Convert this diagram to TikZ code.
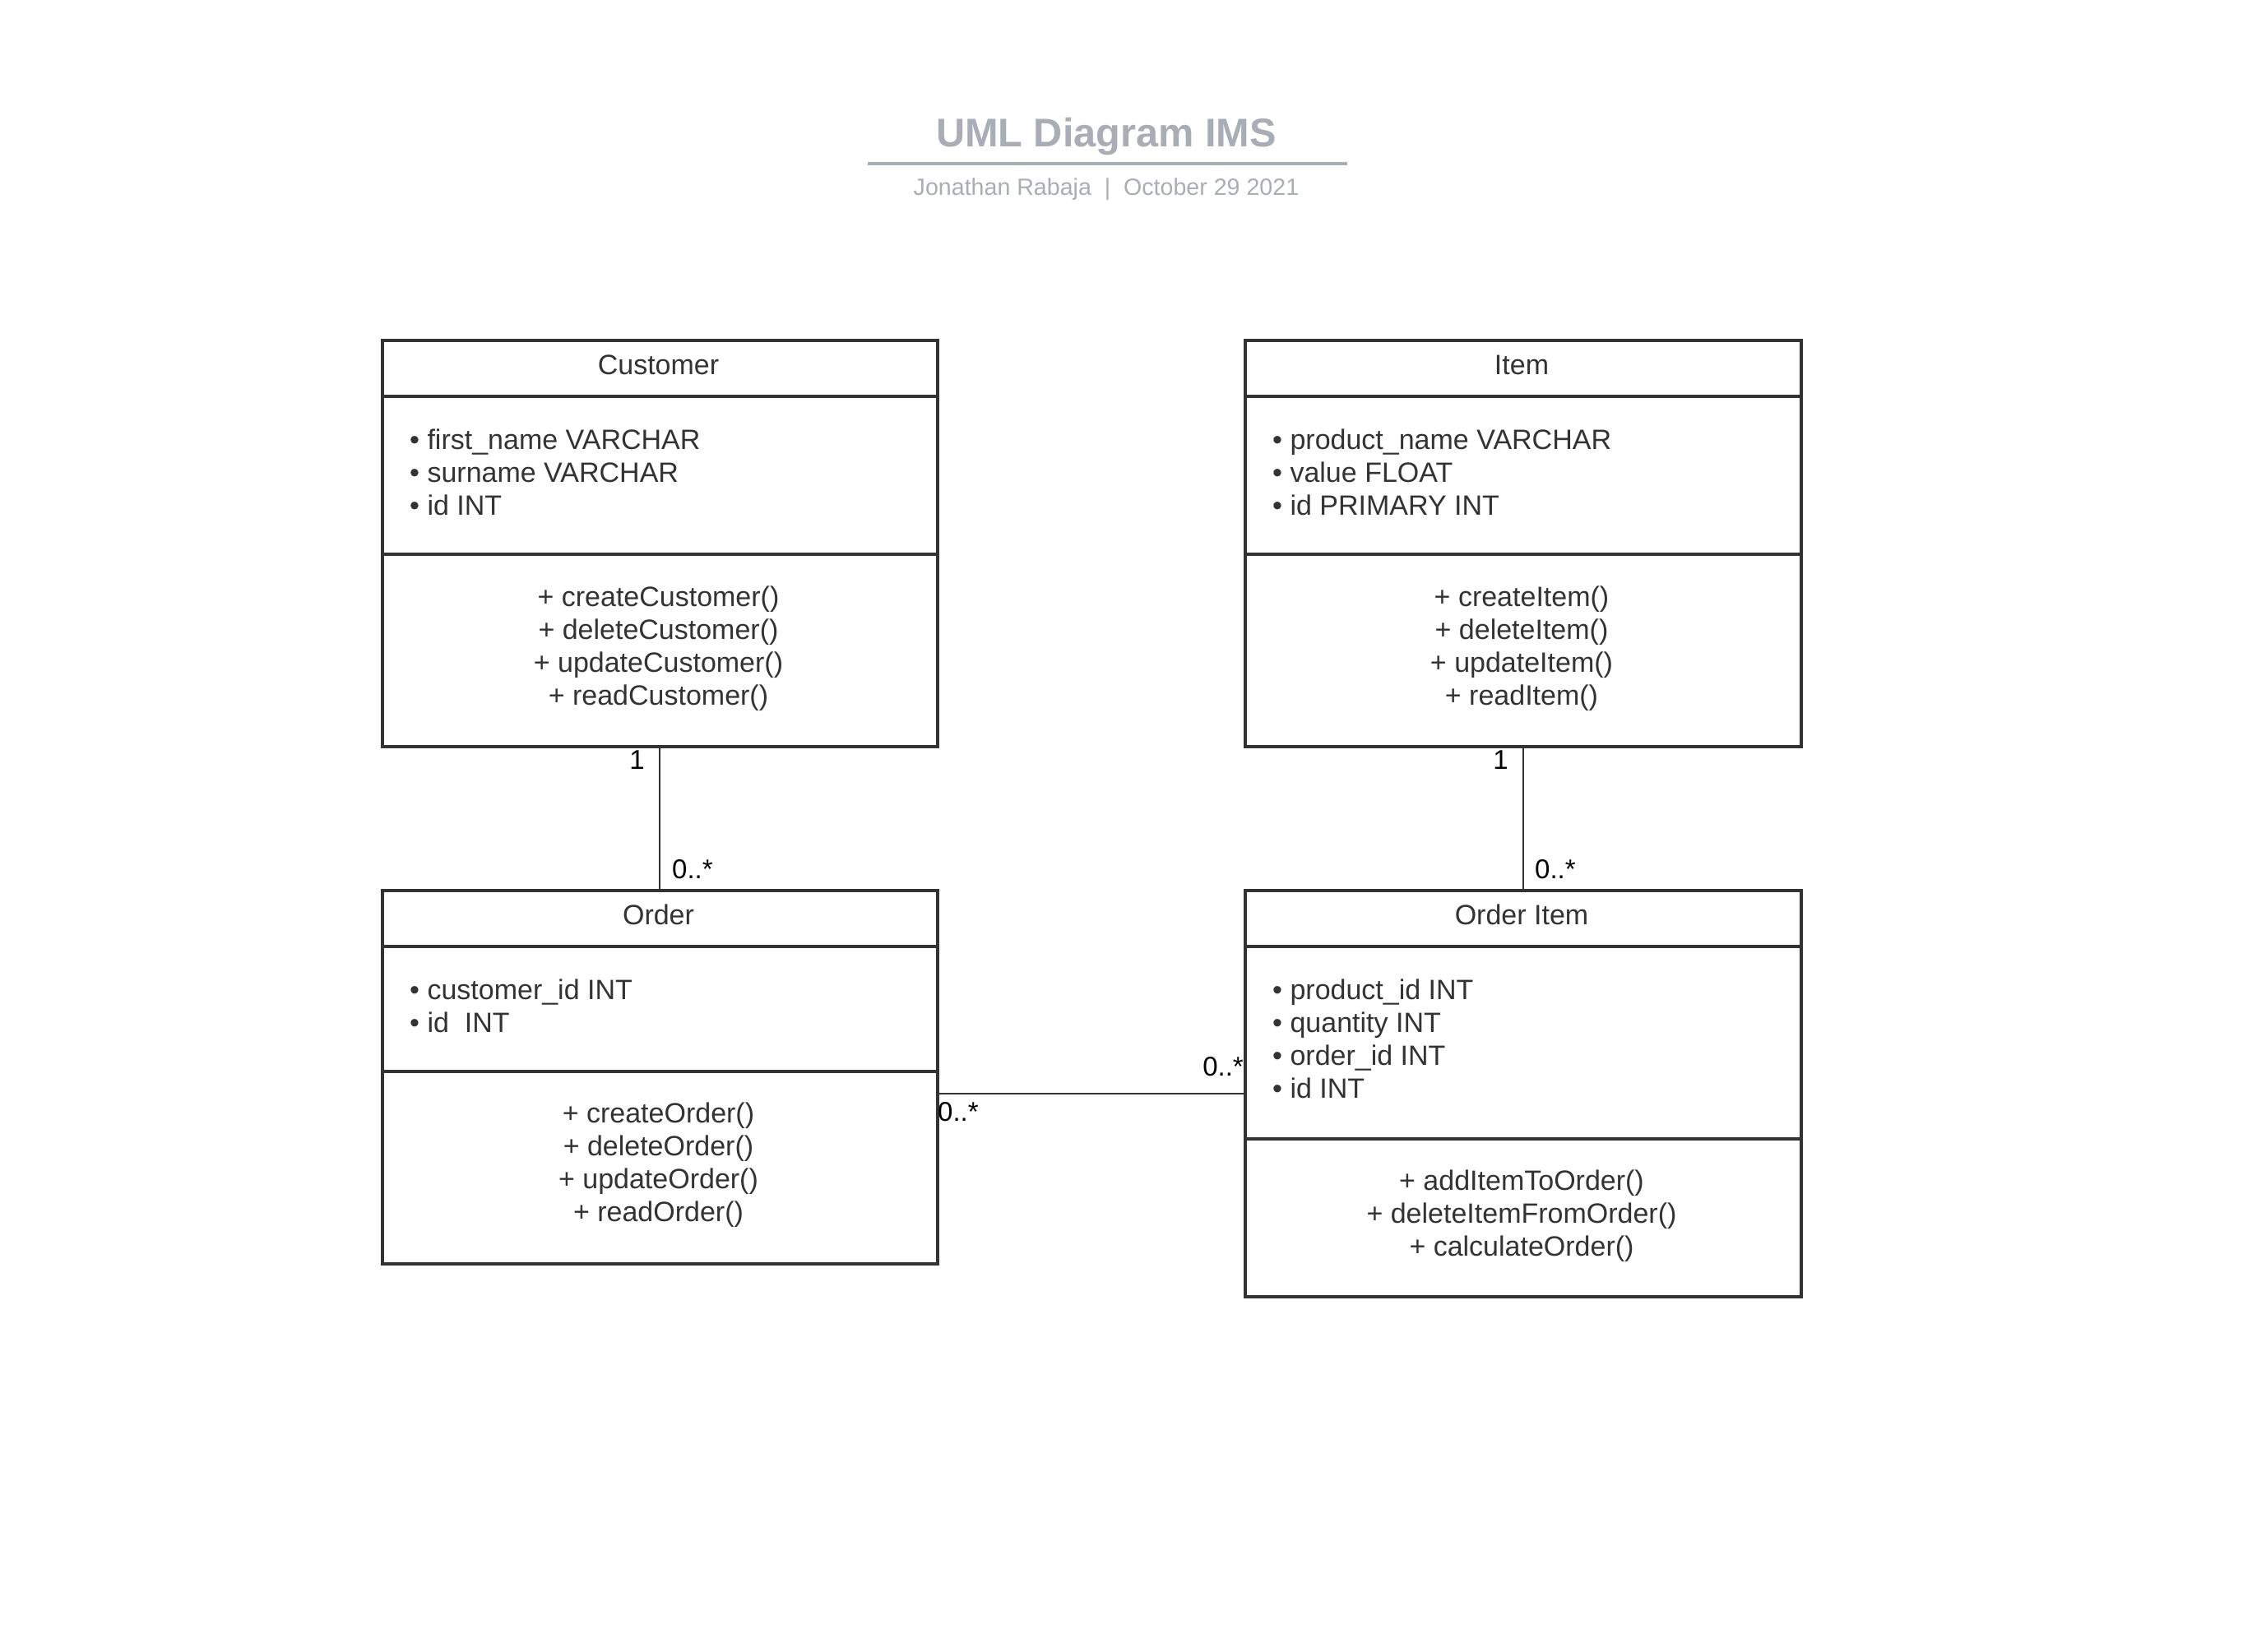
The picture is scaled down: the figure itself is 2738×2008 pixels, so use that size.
\documentclass[tikz,border=0pt]{standalone}
\usepackage{fontspec}
\setmainfont{Liberation Sans}
\definecolor{ink}{HTML}{333333}
\definecolor{titlegray}{HTML}{A9AEB6}
\begin{document}
\begin{tikzpicture}[x=1pt,y=-1pt,
  classbox/.style={draw=ink, line width=3.5pt, rectangle, inner sep=0pt, anchor=north west},
  sepline/.style={draw=ink, line width=3.5pt},
  conn/.style={draw=ink, line width=2pt},
  txt/.style={font=\fontsize{34}{40}\selectfont, text=ink, inner sep=0pt},
  attr/.style={txt, anchor=base west},
  meth/.style={txt, anchor=base},
  mult/.style={font=\fontsize{33}{38}\selectfont, text=black, inner sep=0pt}
]
\useasboundingbox[fill=white] (0,0) rectangle (2738,2008);

% Title
\node[font=\bfseries\fontsize{48.7}{56}\selectfont, text=titlegray, inner sep=0pt, anchor=base] (title) at (1345,178) {UML Diagram IMS};
\draw[titlegray, line width=4pt] (1055,199) -- (1638,199);
\node[font=\fontsize{28.6}{34}\selectfont, text=titlegray, inner sep=0pt, anchor=base] (subtitle) at (1345,237) {Jonathan Rabaja\ \ |\ \ October 29 2021};

% Customer
\node[classbox, minimum width=675pt, minimum height=494pt] (cust) at (463,412) {};
\draw[sepline] (463,482) -- (1138,482);
\draw[sepline] (463,674) -- (1138,674);
\node[meth] (custT) at (800.5,455) {Customer};
\foreach \t [count=\i] in {{• first\_name VARCHAR},{• surname VARCHAR},{• id INT}}
  \node[attr] (custA\i) at (498,506+40*\i) {\t};
\foreach \t [count=\i] in {{+ createCustomer()},{+ deleteCustomer()},{+ updateCustomer()},{+ readCustomer()}}
  \node[meth] (custM\i) at (800.5,697+40*\i) {\t};

% Item
\node[classbox, minimum width=676pt, minimum height=494pt] (item) at (1512,412) {};
\draw[sepline] (1512,482) -- (2188,482);
\draw[sepline] (1512,674) -- (2188,674);
\node[meth] (itemT) at (1850,455) {Item};
\foreach \t [count=\i] in {{• product\_name VARCHAR},{• value FLOAT},{• id PRIMARY INT}}
  \node[attr] (itemA\i) at (1547,506+40*\i) {\t};
\foreach \t [count=\i] in {{+ createItem()},{+ deleteItem()},{+ updateItem()},{+ readItem()}}
  \node[meth] (itemM\i) at (1850,697+40*\i) {\t};

% Order
\node[classbox, minimum width=675pt, minimum height=454pt] (order) at (463,1081) {};
\draw[sepline] (463,1151) -- (1138,1151);
\draw[sepline] (463,1303) -- (1138,1303);
\node[meth] (orderT) at (800.5,1124) {Order};
\foreach \t [count=\i] in {{• customer\_id INT},{• id\ \ INT}}
  \node[attr] (orderA\i) at (498,1175+40*\i) {\t};
\foreach \t [count=\i] in {{+ createOrder()},{+ deleteOrder()},{+ updateOrder()},{+ readOrder()}}
  \node[meth] (orderM\i) at (800.5,1325+40*\i) {\t};

% Order Item
\node[classbox, minimum width=676pt, minimum height=494pt] (oi) at (1512,1081) {};
\draw[sepline] (1512,1151) -- (2188,1151);
\draw[sepline] (1512,1385) -- (2188,1385);
\node[meth] (oiT) at (1850,1124) {Order Item};
\foreach \t [count=\i] in {{• product\_id INT},{• quantity INT},{• order\_id INT},{• id INT}}
  \node[attr] (oiA\i) at (1547,1175+40*\i) {\t};
\foreach \t [count=\i] in {{+ addItemToOrder()},{+ deleteItemFromOrder()},{+ calculateOrder()}}
  \node[meth] (oiM\i) at (1850,1407+40*\i) {\t};

% Connectors
\draw[conn] (cust.south) -- (order.north);
\draw[conn] (item.south) -- (oi.north);
\draw[conn] (oi.west) -- (oi.west -| order.east);

% Multiplicities
\node[mult, anchor=base east] (m1) at (784,935) {1};
\node[mult, anchor=base west] (m2) at (817,1068) {0..*};
\node[mult, anchor=base east] (m3) at (1834,935) {1};
\node[mult, anchor=base west] (m4) at (1866,1068) {0..*};
\node[mult, anchor=base east] (m5) at (1512,1308) {0..*};
\node[mult, anchor=base west] (m6) at (1140,1363) {0..*};
\end{tikzpicture}
\end{document}
